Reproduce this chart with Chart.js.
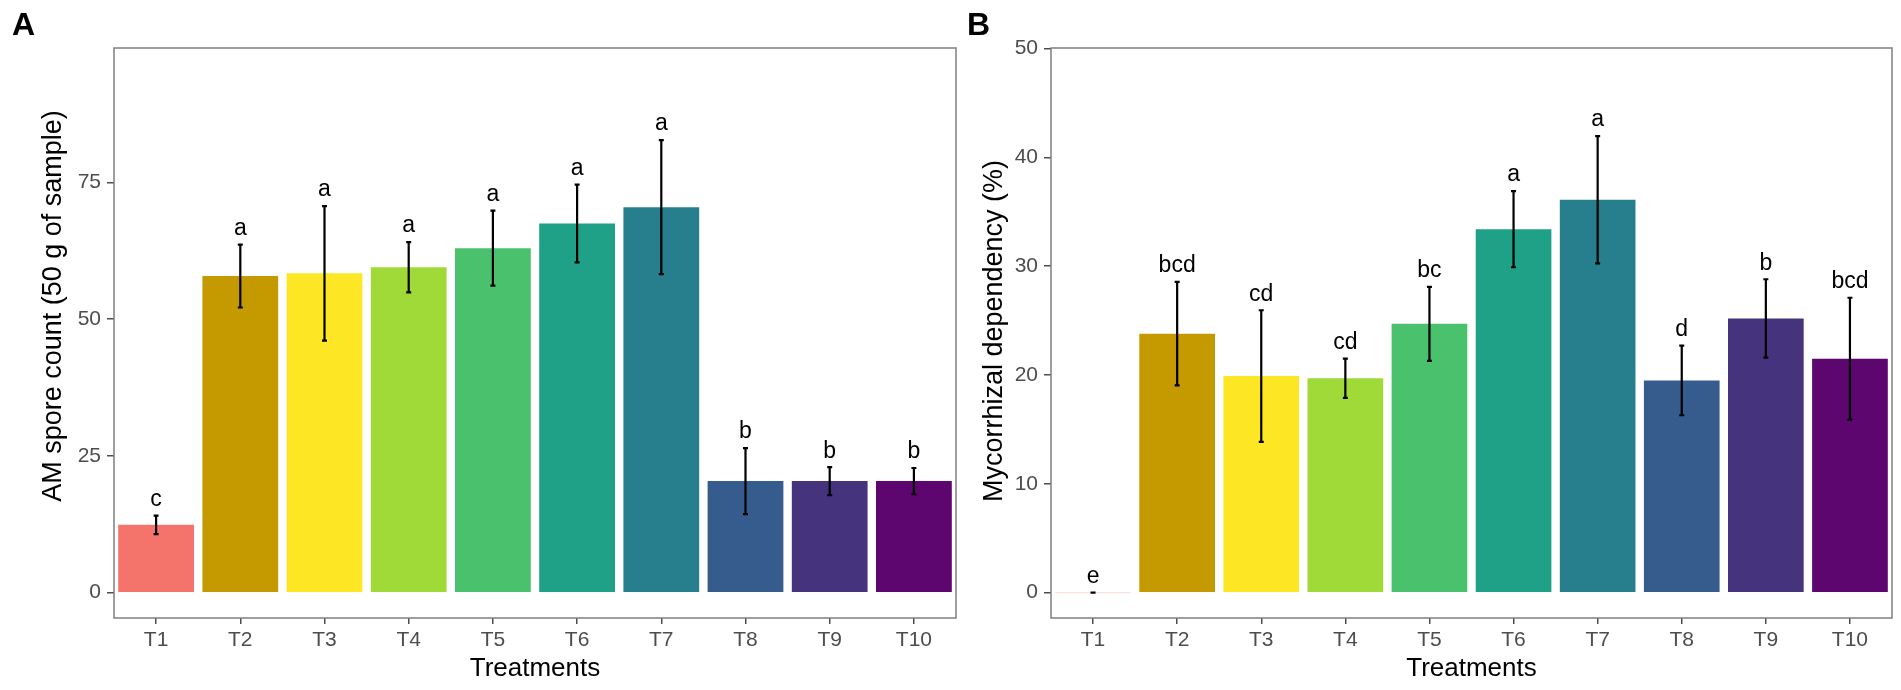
<!DOCTYPE html>
<html>
<head>
<meta charset="utf-8">
<script src="https://cdn.jsdelivr.net/npm/chart.js@4.4.0/dist/chart.umd.min.js"></script>
<style>
  body { margin: 0; background: #fff; }
  #wrap_a { position: absolute; left: 0; top: 0; width: 960px; height: 690px; }
  #wrap_b { position: absolute; left: 960px; top: 0; width: 941px; height: 690px; }
</style>
</head>
<body>
<div id="wrap_a"><canvas id="chart_a"></canvas></div>
<div id="wrap_b"><canvas id="chart_b"></canvas></div>
<script>
// categorias e cores
var tratamentos = ['T1', 'T2', 'T3', 'T4', 'T5', 'T6', 'T7', 'T8', 'T9', 'T10'];
var cores = ['#F8766D', '#C49A00', '#FDE725', '#A0DA39', '#4AC16D', '#1FA187', '#277F8E', '#365C8D', '#46337E', '#5D0670'];

// painel A - contagem de esporos
var esporos_media = [12.4, 57.9, 58.4, 59.5, 63.0, 67.5, 70.5, 20.4, 20.4, 20.4];
var esporos_erro = [1.7, 5.75, 12.3, 4.6, 6.85, 7.1, 12.25, 6.05, 2.55, 2.4];
var esporos_letras = ['c', 'a', 'a', 'a', 'a', 'a', 'a', 'b', 'b', 'b'];
var ticks_a = [0, 25, 50, 75];

// painel B - dependencia micorrizica
var dependencia_media = [0, 23.8, 19.9, 19.7, 24.7, 33.4, 36.1, 19.5, 25.2, 21.5];
var dependencia_erro = [0, 4.75, 6.05, 1.8, 3.4, 3.5, 5.85, 3.2, 3.6, 5.6];
var dependencia_letras = ['e', 'bcd', 'cd', 'cd', 'bc', 'a', 'a', 'd', 'b', 'bcd'];
var ticks_b = [0, 10, 20, 30, 40, 50];

var fonte = '"Liberation Sans", Arial, sans-serif';

// plugin que desenha barras de erro, letras, moldura, titulo do eixo y e letra do painel
var errorBarsPlugin = {
  id: 'errorBars',
  afterDatasetsDraw: function (chart, args, opts) {
    const ctx = chart.ctx;
    const xs = chart.scales.x;
    const ys = chart.scales.y;
    const media = chart.data.datasets[0].data;
    ctx.save();
    for (let i = 0; i < media.length; i++) {
      const x = xs.getPixelForValue(i);
      const yTop = ys.getPixelForValue(media[i] + opts.err[i]);
      const yBot = ys.getPixelForValue(media[i] - opts.err[i]);
      ctx.strokeStyle = '#000';
      ctx.lineWidth = 2.2;
      ctx.beginPath();
      ctx.moveTo(x, yTop);
      ctx.lineTo(x, yBot);
      ctx.moveTo(x - 2.5, yTop);
      ctx.lineTo(x + 2.5, yTop);
      ctx.moveTo(x - 2.5, yBot);
      ctx.lineTo(x + 2.5, yBot);
      ctx.stroke();
      ctx.fillStyle = '#000';
      ctx.font = '23px ' + fonte;
      ctx.textAlign = 'center';
      ctx.textBaseline = 'middle';
      ctx.fillText(opts.letters[i], x, yTop - 16);
    }
    ctx.restore();
  },
  afterDraw: function (chart, args, opts) {
    const ctx = chart.ctx;
    const a = chart.chartArea;
    ctx.save();
    ctx.strokeStyle = '#7f7f7f';
    ctx.lineWidth = 1.5;
    ctx.strokeRect(a.left, a.top, a.right - a.left, a.bottom - a.top);
    // titulo do eixo y
    ctx.fillStyle = '#000';
    ctx.font = '27px ' + fonte;
    ctx.textAlign = 'center';
    ctx.textBaseline = 'middle';
    ctx.translate(opts.titleX, opts.titleY);
    ctx.rotate(-Math.PI / 2);
    ctx.fillText(opts.yTitle, 0, 0);
    ctx.restore();
    ctx.save();
    ctx.fillStyle = '#000';
    ctx.font = 'bold 32px ' + fonte;
    ctx.textAlign = 'left';
    ctx.textBaseline = 'alphabetic';
    ctx.fillText(opts.panel, opts.panelX, 35);
    ctx.restore();
  }
};

function makeChart(canvasId, media, erro, letras, ticks, yMin, yMax, yTitle, yWidth, titleX, titleY, padRight, panel, panelX, minLen, cor1) {
  const barColors = cores.slice();
  barColors[0] = cor1;
  return new Chart(document.getElementById(canvasId), {
    type: 'bar',
    data: {
      labels: tratamentos,
      datasets: [{
        data: media,
        backgroundColor: barColors,
        borderWidth: 0,
        barPercentage: 0.9,
        categoryPercentage: 1.0,
        minBarLength: minLen
      }]
    },
    options: {
      responsive: true,
      maintainAspectRatio: false,
      animation: false,
      devicePixelRatio: 1,
      layout: { padding: { left: 0, top: 48, right: padRight, bottom: 0 } },
      plugins: {
        legend: { display: false },
        tooltip: { enabled: false },
        errorBars: { err: erro, letters: letras, panel: panel, panelX: panelX, yTitle: yTitle, titleX: titleX, titleY: titleY }
      },
      scales: {
        x: {
          offset: true,
          grid: { display: true, drawOnChartArea: false, drawTicks: true, tickLength: 6, color: '#4d4d4d', lineWidth: 1.5, offset: false },
          border: { display: false },
          ticks: { color: '#4d4d4d', font: { family: fonte, size: 21 }, padding: 4, maxRotation: 0 },
          title: { display: true, text: 'Treatments', color: '#000', font: { family: fonte, size: 26 }, padding: { top: 0, bottom: 6 } },
          afterFit: function (scale) { scale.height = 72; }
        },
        y: {
          min: yMin,
          max: yMax,
          grid: { display: true, drawOnChartArea: false, drawTicks: true, tickLength: 7, color: '#4d4d4d', lineWidth: 1.5 },
          border: { display: false },
          ticks: { color: '#4d4d4d', font: { family: fonte, size: 21 }, padding: 6 },
          afterBuildTicks: function (scale) { scale.ticks = ticks.map(v => ({ value: v })); },
          afterFit: function (scale) { scale.width = yWidth; }
        }
      }
    },
    plugins: [errorBarsPlugin]
  });
}

makeChart('chart_a', esporos_media, esporos_erro, esporos_letras, ticks_a, -4.63, 99.6,
  'AM spore count (50 g of sample)', 114, 54, 306, 4, 'A', 12, 0, '#F4736B');
makeChart('chart_b', dependencia_media, dependencia_erro, dependencia_letras, ticks_b, -2.33, 50.05,
  'Mycorrhizal dependency (%)', 91, 35, 331, 9, 'B', 7, 1, 'rgba(248,118,109,0.3)');
</script>
</body>
</html>
